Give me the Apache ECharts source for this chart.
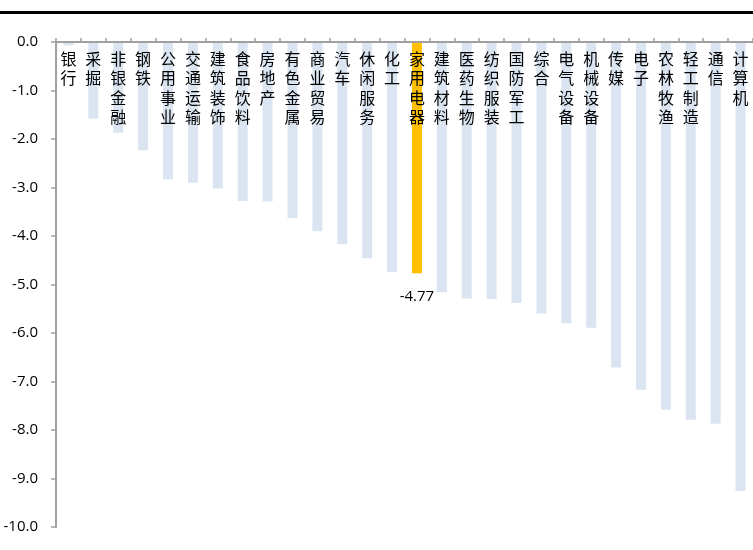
<!DOCTYPE html>
<html>
<head>
<meta charset="utf-8">
<script src="https://cdn.jsdelivr.net/npm/echarts@6/dist/echarts.min.js"></script>
<style>
  html, body { margin: 0; padding: 0; background: #fff; }
  #chart { width: 753px; height: 550px; }
</style>
</head>
<body>
<div id="chart"></div>
<script>
// 行业涨跌幅（%）
const industries = ['银行', '采掘', '非银金融', '钢铁', '公用事业', '交通运输', '建筑装饰', '食品饮料',
  '房地产', '有色金属', '商业贸易', '汽车', '休闲服务', '化工', '家用电器', '建筑材料', '医药生物',
  '纺织服装', '国防军工', '综合', '电气设备', '机械设备', '传媒', '电子', '农林牧渔', '轻工制造', '通信', '计算机'];
const changes = [-0.07, -1.58, -1.87, -2.23, -2.83, -2.90, -3.02, -3.28,
  -3.29, -3.63, -3.90, -4.17, -4.46, -4.74, -4.77, -5.16, -5.29,
  -5.30, -5.38, -5.60, -5.80, -5.89, -6.71, -7.17, -7.58, -7.79, -7.87, -9.26];
const highlighted = '家用电器';
const yTicks = { min: -10, max: 0, step: 1 };

const baseColor = '#dbe5f1';
const highlightColor = '#ffc000';
const numFont = '"Open Sans", "Noto Sans", sans-serif';
const axisGray = '#a0a0a0';

const seriesData = industries.map((name, i) => {
  const item = { value: changes[i], itemStyle: { color: name === highlighted ? highlightColor : baseColor } };
  if (name === highlighted) {
    item.label = {
      show: true,
      position: 'bottom',
      distance: 16,
      formatter: p => p.value.toFixed(2),
      color: '#000',
      fontSize: 15,
      fontFamily: numFont
    };
  }
  return item;
});

const chart = echarts.init(document.getElementById('chart'), null, { renderer: 'canvas' });
chart.setOption({
  animation: false,
  backgroundColor: '#fff',
  grid: { left: 56, right: 0, top: 42, bottom: 23, containLabel: false },
  graphic: [{
    type: 'line',
    shape: { x1: 0, y1: 12.5, x2: 753, y2: 12.5 },
    style: { stroke: '#000', lineWidth: 3 }
  }],
  xAxis: {
    type: 'category',
    data: industries,
    position: 'top',
    z: 5,
    axisLine: { show: true, onZero: false, lineStyle: { color: axisGray, width: 2 } },
    axisTick: { show: true, inside: false, length: 4, lineStyle: { color: axisGray, width: 1.5 } },
    axisLabel: {
      inside: true,
      margin: 7,
      interval: 0,
      color: '#000',
      fontSize: 16,
      lineHeight: 19.5,
      fontFamily: '"Noto Sans CJK SC", sans-serif',
      verticalAlign: 'top',
      formatter: v => v.split('').join('\n')
    },
    splitLine: { show: false }
  },
  yAxis: {
    type: 'value',
    min: yTicks.min,
    max: yTicks.max,
    interval: yTicks.step,
    z: 5,
    axisLine: { show: true, lineStyle: { color: axisGray, width: 2 } },
    axisTick: { show: true, length: 5, lineStyle: { color: axisGray, width: 1.5 } },
    axisLabel: {
      margin: 18,
      color: '#000',
      fontSize: 15,
      fontFamily: numFont,
      formatter: v => v.toFixed(1)
    },
    splitLine: { show: false }
  },
  series: [{
    type: 'bar',
    z: 2,
    data: seriesData,
    barWidth: 10
  }]
});
</script>
</body>
</html>
